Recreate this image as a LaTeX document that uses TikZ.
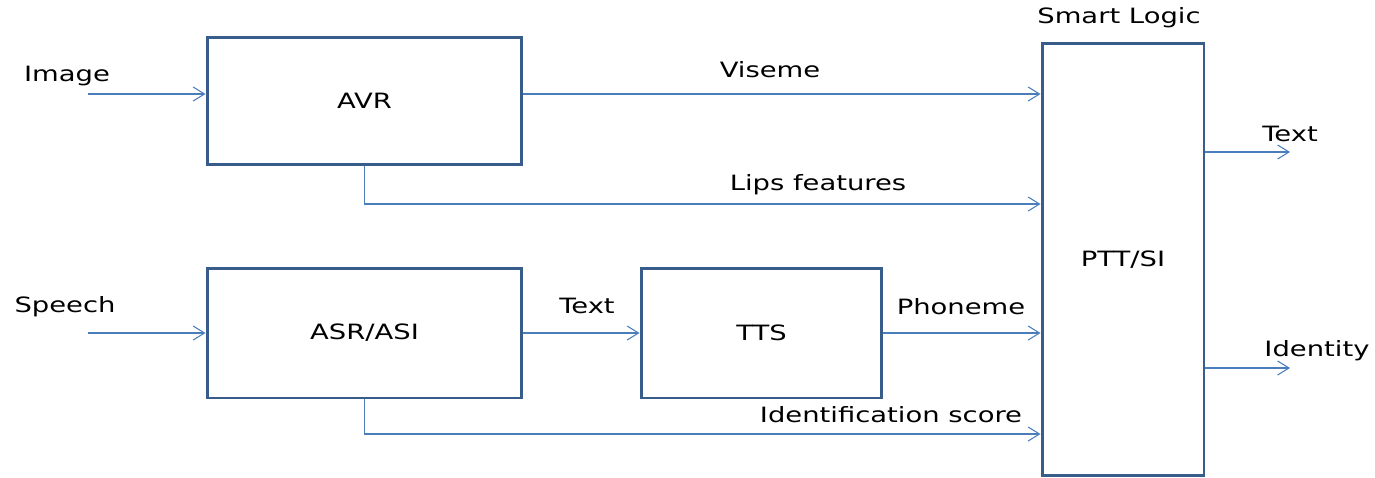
\documentclass[tikz,border=0pt]{standalone}
\usepackage{fontspec}
\setmainfont{DejaVu Sans}[FakeStretch=1.3]
\usetikzlibrary{arrows.meta}
\definecolor{boxline}{RGB}{56,93,138}
\definecolor{wire}{RGB}{74,126,187}
\tikzset{
    block/.style={
        rectangle,
        draw=boxline,
        line width=1.7pt,
        fill=white,
        align=center,
        font=\fontsize{12}{14}\selectfont
    },
    flow/.style={
        -{Straight Barb[length=6.5pt,width=8pt]},
        draw=wire,
        line width=0.6pt
    },
    lbl/.style={
        font=\fontsize{12}{14}\selectfont,
        inner sep=0pt
    }
}
\begin{document}
\begin{tikzpicture}[x=0.02cm, y=-0.02cm]
\useasboundingbox (0,0) rectangle (1375,477);

% blocks
\node[block, minimum width=6.3cm, minimum height=2.56cm] (avr) at (364.5,101) {AVR};
\node[block, minimum width=6.3cm, minimum height=2.6cm] (asr) at (364.5,333) {ASR/ASI};
\node[block, minimum width=4.82cm, minimum height=2.6cm] (tts) at (761.5,333) {TTS};
\node[block, minimum width=3.24cm, minimum height=8.66cm] (ptt) at (1123,259.5) {PTT/SI};

% free ends and rows
\coordinate (imgin) at (88,94);
\coordinate (spin) at (88,333);
\coordinate (lipsrow) at (0,204);
\coordinate (idrow) at (0,434);
\coordinate (textout) at (1290,152);
\coordinate (identout) at (1290,368);

% connectors
\draw[flow] (imgin) -- (imgin -| avr.west);
\draw[flow] (spin) -- (asr.west);
\draw[flow] (imgin -| avr.east) -- (imgin -| ptt.west);
\draw[flow] (avr.south) |- (lipsrow -| ptt.west);
\draw[flow] (asr.east) -- (tts.west);
\draw[flow] (tts.east) -- (tts.east -| ptt.west);
\draw[flow] (asr.south) |- (idrow -| ptt.west);
\draw[flow] (textout -| ptt.east) -- (textout);
\draw[flow] (identout -| ptt.east) -- (identout);

% labels
\node[lbl] (limage) at (67,76) {Image};
\node[lbl] (lspeech) at (65,307) {Speech};
\node[lbl] (lviseme) at (770,70) {Viseme};
\node[lbl] (llips) at (818,185) {Lips features};
\node[lbl] (ltextmid) at (587,306) {Text};
\node[lbl] (lphoneme) at (961,307) {Phoneme};
\node[lbl] (lidscore) at (891,415) {Identification score};
\node[lbl] (ltextout) at (1290,134) {Text};
\node[lbl] (lidentity) at (1317,351) {Identity};
\node[lbl] (lsmart) at (1119,18) {Smart Logic};

\end{tikzpicture}
\end{document}
